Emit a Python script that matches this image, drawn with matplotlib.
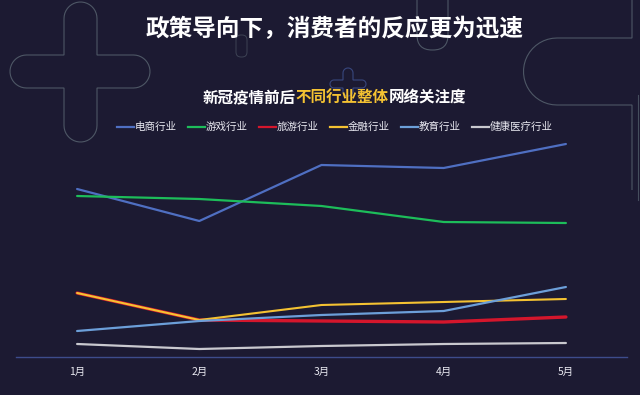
import matplotlib
matplotlib.use("Agg")
import matplotlib.pyplot as plt
from matplotlib.path import Path
from matplotlib.patches import PathPatch, FancyBboxPatch
from matplotlib.lines import Line2D
import numpy as np

plt.rcParams['font.family'] = ['Noto Sans CJK SC', 'DejaVu Sans']

months = ["1月", "2月", "3月", "4月", "5月"]
series_names = ["电商行业", "游戏行业", "旅游行业", "金融行业", "教育行业", "健康医疗行业"]
ecommerce = [168, 136, 192, 189, 213]
gaming = [161, 158, 151, 135, 134]
travel = [64, 37, 36, 35, 40]
finance = [64, 37, 52, 55, 58]
education = [26, 36, 42, 46, 70]
health = [13, 8, 11, 13, 14]
series_values = [ecommerce, gaming, travel, finance, education, health]
colors = ["#4f6fc2", "#1dbd5a", "#d4162c", "#f4c232", "#6c9fd9", "#c9c9cf"]
widths = [1.6, 1.6, 2.4, 1.5, 1.6, 1.6]

BG = "#1c1a32"
W, H = 640, 395
fig = plt.figure(figsize=(6.4, 3.95), dpi=100, facecolor=BG)

# decorative outline shapes (figure pixel coords, y from top)
deco = fig.add_axes([0, 0, 1, 1], facecolor=BG)
deco.set_xlim(0, W)
deco.set_ylim(H, 0)
deco.axis("off")

def rounded_cross(xv0, xv1, yv0, yv1, xh0, xh1, yh0, yh1):
    rv = (xv1 - xv0) / 2
    rh = (yh1 - yh0) / 2
    verts = []
    cx, cy = (xv0 + xv1) / 2, yv0 + rv
    for t in np.linspace(np.pi, 2 * np.pi, 20):
        verts.append((cx + rv * np.cos(t), cy + rv * np.sin(t)))
    verts.append((xv1, yh0))
    cx, cy = xh1 - rh, (yh0 + yh1) / 2
    for t in np.linspace(-np.pi / 2, np.pi / 2, 20):
        verts.append((cx + rh * np.cos(t), cy + rh * np.sin(t)))
    verts.append((xv1, yh1))
    cx, cy = (xv0 + xv1) / 2, yv1 - rv
    for t in np.linspace(0, np.pi, 20):
        verts.append((cx + rv * np.cos(t), cy + rv * np.sin(t)))
    verts.append((xv0, yh1))
    cx, cy = xh0 + rh, (yh0 + yh1) / 2
    for t in np.linspace(np.pi / 2, 3 * np.pi / 2, 20):
        verts.append((cx + rh * np.cos(t), cy + rh * np.sin(t)))
    verts.append((xv0, yh0))
    verts.append(verts[0])
    return Path(verts)

DECO = "#6f8088"
deco.add_patch(PathPatch(rounded_cross(64, 97, 2, 142, 10, 150, 55, 88),
                         fill=False, edgecolor=DECO, lw=0.8, alpha=0.6))
deco.add_patch(PathPatch(rounded_cross(343, 353, 68, 96, 330, 366, 80, 88),
                         fill=False, edgecolor="#3b4c86", lw=0.8, alpha=0.9))
deco.add_patch(FancyBboxPatch((417, -20), 31, 70, boxstyle="round,pad=0,rounding_size=15",
                              fill=False, edgecolor=DECO, lw=0.8, alpha=0.6))
deco.add_patch(FancyBboxPatch((236, 35), 11, 22, boxstyle="round,pad=0,rounding_size=5",
                              fill=False, edgecolor=DECO, lw=0.7, alpha=0.4))
verts = [(632, 0), (632, 38), (557, 38)]
for t in np.linspace(-np.pi / 2, -3 * np.pi / 2, 24):
    verts.append((557 + 33.5 * np.cos(t), 71.5 + 33.5 * np.sin(t)))
verts += [(632, 105), (632, 190)]
deco.add_patch(PathPatch(Path(verts), fill=False, edgecolor=DECO, lw=0.8, alpha=0.6))
deco.plot([638, 638], [95, 200], color=DECO, lw=0.8, alpha=0.5)

# titles
fig.text(0.522, 1 - 29 / H, "政策导向下，消费者的反应更为迅速", color="white",
         fontsize=17, fontweight="bold", ha="center", va="center")
t1 = "新冠疫情前后"
t2 = "不同行业整体"
t3 = "网络关注度"
FS = 11.2
tx = fig.text(203 / W, 1 - 97 / H, t1, color="white", fontsize=FS, fontweight="bold",
              ha="left", va="center")
fig.canvas.draw()
r = fig.canvas.get_renderer()
bb = tx.get_window_extent(r)
tx2 = fig.text(bb.x1 / W, 1 - 97 / H, t2, color="#f4c232", fontsize=FS, fontweight="bold",
               ha="left", va="center")
bb2 = tx2.get_window_extent(r)
fig.text(bb2.x1 / W, 1 - 97 / H, t3, color="white", fontsize=FS, fontweight="bold",
         ha="left", va="center")

ax = fig.add_axes([16 / W, 1 - 357 / H, (627 - 16) / W, (357 - 117) / H])
ax.set_facecolor("none")
x = np.arange(len(months))
for name, vals, c, lw in zip(series_names, series_values, colors, widths):
    ax.plot(x, vals, color=c, lw=lw, label=name, solid_capstyle="round")
ax.set_xlim(-0.5, len(months) - 0.5)
ax.set_ylim(0, 240)
ax.set_xticks(x)
ax.set_xticklabels(months, color="#e8e8f0", fontsize=7.5)
ax.tick_params(axis="x", length=0, pad=7)
ax.set_yticks([])
for s in ["top", "right", "left"]:
    ax.spines[s].set_visible(False)
ax.spines["bottom"].set_color("#3d4c8c")
ax.spines["bottom"].set_linewidth(1)

handles = [Line2D([0], [0], color=c, lw=1.6) for c in colors]
fig.legend(handles, series_names, loc="center", bbox_to_anchor=(0.523, 1 - 127 / H),
           ncol=6, frameon=False, fontsize=7.6, labelcolor="#e8e8f0",
           handlelength=1.6, handletextpad=0.05, columnspacing=1.1)

fig.savefig("out.png", dpi=100, facecolor=BG)
